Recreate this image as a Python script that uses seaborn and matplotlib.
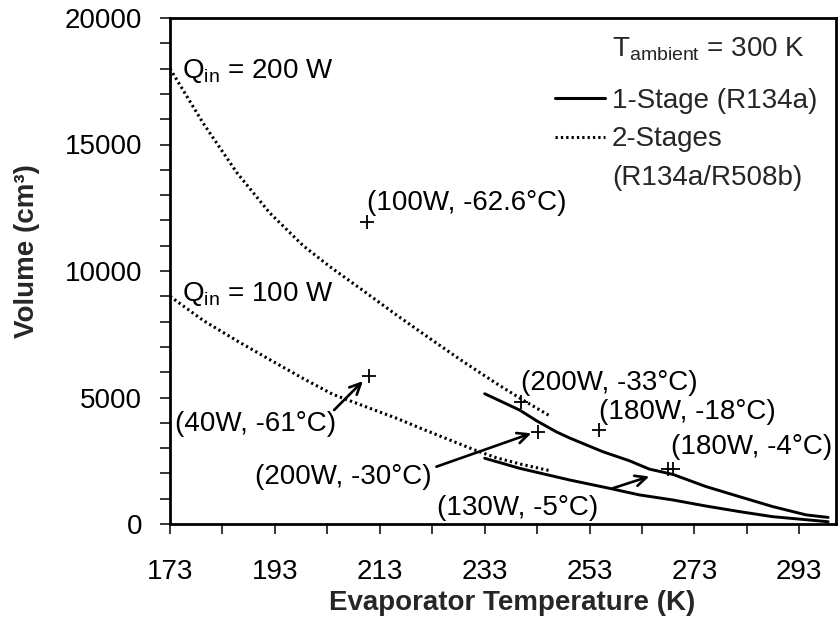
import numpy as np
import pandas as pd
import matplotlib
matplotlib.use("Agg")
import matplotlib.pyplot as plt
import seaborn as sns
from matplotlib.lines import Line2D
from matplotlib.ticker import FixedLocator

# ---------------- data ----------------
# 2-Stages (R134a/R508b), Qin = 200 W
t_2s_200 = [173, 179.3, 185.7, 192.0, 198.4, 203.5, 209.8, 216.2, 222.5, 228.9, 235.2, 240.3, 245.7]
v_2s_200 = [18000, 15850, 13900, 12300, 11000, 10170, 9230, 8260, 7340, 6420, 5560, 4900, 4240]
# 2-Stages (R134a/R508b), Qin = 100 W
t_2s_100 = [173, 179.3, 185.7, 192.0, 198.4, 204.0, 210.0, 216.2, 220.6, 226.0, 230.8, 235.2, 240.0, 245.6]
v_2s_100 = [9000, 8050, 7250, 6500, 5750, 5130, 4660, 4180, 3800, 3350, 2950, 2620, 2360, 2100]
# 1-Stage (R134a), Qin = 200 W
t_1s_200 = [233, 236, 239.7, 242.9, 246.7, 249.2, 255.5, 260.6, 264.4, 268.9, 275.2, 281.6, 287.9, 294.3, 298.5]
v_1s_200 = [5150, 4860, 4500, 4080, 3640, 3400, 2860, 2500, 2170, 1960, 1480, 1080, 690, 360, 260]
# 1-Stage (R134a), Qin = 100 W
t_1s_100 = [233, 239.7, 249.2, 256.8, 262.5, 268.9, 275.2, 281.6, 287.9, 298.5]
v_1s_100 = [2600, 2200, 1740, 1410, 1150, 950, 710, 490, 290, 90]

# measured / reference points (+)
pt_T = [210.5, 211.0, 240.0, 243.2, 254.9, 267.9, 268.9]
pt_V = [11950, 5860, 4830, 3650, 3720, 2160, 2160]

point_labels = ["(100W, -62.6°C)", "(40W, -61°C)", "(200W, -33°C)", "(200W, -30°C)",
                "(180W, -18°C)", "(180W, -4°C)", "(130W, -5°C)"]

x_ticks = [173, 193, 213, 233, 253, 273, 293]
y_ticks = [0, 5000, 10000, 15000, 20000]

# ---------------- style ----------------
sns.set_style("ticks")
plt.rcParams["font.family"] = ["Liberation Sans", "DejaVu Sans"]
plt.rcParams["mathtext.fontset"] = "custom"
plt.rcParams["mathtext.rm"] = "Liberation Sans"
plt.rcParams["mathtext.it"] = "Liberation Sans"
plt.rcParams["mathtext.default"] = "regular"

FS = 20
DOT = (0, (0.75, 1.0))
DOT_LW = 2.2

fig = plt.figure(figsize=(8.38, 6.28), dpi=100)
fig.patch.set_facecolor("white")
ax = fig.add_axes([170 / 838, 1 - 524 / 628, 666 / 838, 506 / 628])
ax.set_facecolor("white")

df = pd.concat([
    pd.DataFrame({"T": t_2s_200, "V": v_2s_200, "stage": "2", "Q": "200"}),
    pd.DataFrame({"T": t_2s_100, "V": v_2s_100, "stage": "2", "Q": "100"}),
    pd.DataFrame({"T": t_1s_200, "V": v_1s_200, "stage": "1", "Q": "200"}),
    pd.DataFrame({"T": t_1s_100, "V": v_1s_100, "stage": "1", "Q": "100"}),
], ignore_index=True)

for (stage, q), sub in df.groupby(["stage", "Q"]):
    if stage == "2":
        sns.lineplot(data=sub, x="T", y="V", ax=ax, color="black", lw=DOT_LW,
                     linestyle=DOT, estimator=None, sort=False, legend=False)
    else:
        sns.lineplot(data=sub, x="T", y="V", ax=ax, color="black", lw=2.1,
                     estimator=None, sort=False, legend=False)

sns.scatterplot(x=pt_T, y=pt_V, ax=ax, marker="+", s=110, color="black",
                linewidth=1.3, legend=False, zorder=5)

# ---------------- annotations ----------------
tkw = dict(fontsize=FS, color="black", va="center", ha="left")
ax.text(210.6, 12700, point_labels[0], **tkw)
ax.text(174.0, 3950, point_labels[1], **tkw)
ax.text(239.9, 5560, point_labels[2], **tkw)
ax.text(189.2, 1870, point_labels[3], **tkw)
ax.text(254.8, 4440, point_labels[4], **tkw)
ax.text(268.5, 3060, point_labels[5], **tkw)
ax.text(224.0, 620, point_labels[6], **tkw)

akw = dict(arrowstyle="->,head_length=0.8,head_width=0.38", color="black", lw=1.9,
           shrinkA=0, shrinkB=0)
ax.annotate("", xy=(209.8, 5650), xytext=(204.3, 4506), arrowprops=akw)
ax.annotate("", xy=(241.9, 3585), xytext=(223.8, 2265), arrowprops=akw)
ax.annotate("", xy=(264.4, 1880), xytext=(257.4, 1411), arrowprops=akw)

ax.text(175.2, 17900, r"Q$_{in}$ = 200 W", **tkw)
ax.text(175.2, 9100, r"Q$_{in}$ = 100 W", **tkw)

ax.text(0.663, 0.9235, r"T$_{ambient}$ = 300 K", transform=ax.transAxes,
        fontsize=FS, ha="left", va="baseline")

handles = [Line2D([], [], color="black", lw=2.2),
           Line2D([], [], color="black", lw=DOT_LW, linestyle=DOT),
           Line2D([], [], color="none")]
leg = ax.legend(handles, ["1-Stage (R134a)", "2-Stages", "(R134a/R508b)"],
                loc="upper left", bbox_to_anchor=(0.578, 0.862), frameon=False,
                fontsize=FS, handlelength=1.8, handletextpad=0.25,
                labelspacing=0.45, borderpad=0, borderaxespad=0)

# ---------------- axes ----------------
ax.set_xlim(173, 300)
ax.set_ylim(0, 20000)
ax.xaxis.set_major_locator(FixedLocator(x_ticks))
ax.xaxis.set_minor_locator(FixedLocator([t + 10 for t in x_ticks]))
ax.yaxis.set_major_locator(FixedLocator(y_ticks))
ax.yaxis.set_minor_locator(FixedLocator(list(range(0, 20001, 1000))))
ax.set_xticklabels([str(t) for t in x_ticks])
ax.set_yticklabels([str(t) for t in y_ticks])

for s in ax.spines.values():
    s.set_linewidth(2.0)
    s.set_color("black")
    s.set_visible(True)

ax.tick_params(axis="both", which="both", direction="out", length=7, width=1.1,
               colors="black", labelsize=FS)
ax.tick_params(axis="x", which="both", pad=18)
ax.tick_params(axis="y", which="both", pad=13)

ax.set_xlabel("Evaporator Temperature (K)", fontsize=20, fontweight="bold")
ax.set_ylabel("Volume (cm³)", fontsize=20, fontweight="bold")
ax.xaxis.set_label_coords(0.5135, -0.13)
ax.yaxis.set_label_coords(-0.195, 0.54)

fig.savefig("out.png", dpi=100)
